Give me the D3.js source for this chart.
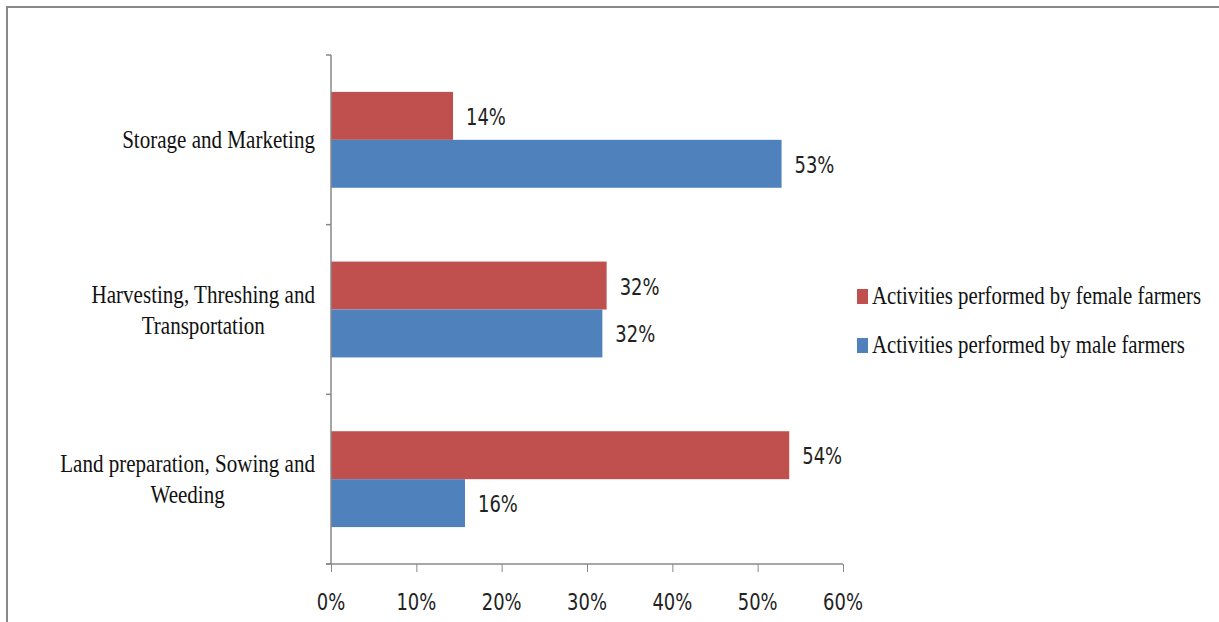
<!DOCTYPE html>
<html>
<head>
<meta charset="utf-8">
<script src="https://cdn.jsdelivr.net/npm/d3@7"></script>
<style>
body { margin: 0; background: #fff; }
</style>
</head>
<body>
<div id="chart"></div>
<script>
// categories top to bottom, each label split into lines
var categories = ["Storage and Marketing", "Harvesting, Threshing and Transportation", "Land preparation, Sowing and Weeding"];
var categoryLines = [["Storage and Marketing"], ["Harvesting, Threshing and", "Transportation"], ["Land preparation, Sowing and", "Weeding"]];
var seriesNames = ["Activities performed by female farmers", "Activities performed by male farmers"];
var seriesColors = ["#C0504D", "#4F81BD"];
var femaleValues = [14.3, 32.3, 53.7];
var maleValues = [52.8, 31.8, 15.7];
var xTicks = [0, 10, 20, 30, 40, 50, 60];

var width = 1219, height = 622;
var plot = {left: 331, right: 843, top: 55, bottom: 564};
var serif = "'Liberation Serif', 'Times New Roman', serif";
var sans = "'DejaVu Sans', sans-serif";

var svg = d3.select("#chart").append("svg")
	.attr("width", width)
	.attr("height", height);

// text squeezed sideways, the source picture is stretched tall
function narrowText(parent, x, y, str, font, size, sx, anchor) {
	var g = parent.append("g")
		.attr("transform", "translate(" + x + "," + y + ") scale(" + sx + ",1)");
	var t = g.append("text")
		.attr("text-anchor", anchor || "start")
		.attr("font-family", font)
		.attr("font-size", size + "px")
		.attr("fill", "#111")
		.text(str);
	return {g: g, t: t, w: t.node().getComputedTextLength() * sx};
}

// outer frame
svg.append("rect")
	.attr("x", 7).attr("y", 7)
	.attr("width", width + 10).attr("height", height + 10)
	.attr("fill", "none")
	.attr("stroke", "#888888")
	.attr("stroke-width", 2);

var x = d3.scaleLinear().domain([0, 60]).range([plot.left, plot.right]);
var y = d3.scaleBand().domain(categories).range([plot.top, plot.bottom]);
var inner = d3.scaleBand().domain([0, 1]).range([0, y.bandwidth()]).paddingOuter(0.77).paddingInner(0);

var rows = [];
categories.forEach(function (c, i) {
	rows.push({cat: c, s: 0, v: femaleValues[i]});
	rows.push({cat: c, s: 1, v: maleValues[i]});
});

svg.selectAll(".bar")
	.data(rows)
	.enter()
	.append("rect")
		.attr("class", "bar")
		.attr("x", x(0))
		.attr("y", d => y(d.cat) + inner(d.s))
		.attr("width", d => x(d.v) - x(0))
		.attr("height", inner.bandwidth())
		.attr("fill", d => seriesColors[d.s]);

rows.forEach(function (d) {
	narrowText(svg, x(d.v) + 13, y(d.cat) + inner(d.s) + inner.bandwidth() / 2 + 9,
		Math.round(d.v) + "%", sans, 23, 0.78).t.attr("fill", "#222");
});

// x axis
var xAxis = d3.axisBottom(x).tickValues(xTicks).tickSize(8).tickFormat("");
var xg = svg.append("g")
	.attr("transform", "translate(0," + plot.bottom + ")")
	.call(xAxis);
xg.select(".domain").attr("stroke", "#888").attr("stroke-width", 1.5)
	.attr("d", "M" + (plot.left - 5) + ",0H" + plot.right);
xg.selectAll(".tick line").attr("stroke", "#888");
xTicks.forEach(function (v) {
	narrowText(xg, x(v), 46, v + "%", sans, 23, 0.78, "middle").t.attr("fill", "#222");
});

// y axis line with category separators
var yg = svg.append("g").attr("stroke", "#888").attr("stroke-width", 1.5);
yg.append("line")
	.attr("x1", plot.left).attr("x2", plot.left)
	.attr("y1", plot.top).attr("y2", plot.bottom);
var seps = categories.map(c => y(c)).concat([plot.bottom]);
yg.selectAll(".sep")
	.data(seps)
	.enter()
	.append("line")
		.attr("x1", plot.left - 5).attr("x2", plot.left)
		.attr("y1", d => d).attr("y2", d => d);

// category labels, lines centred on each other, block right aligned
categories.forEach(function (c, i) {
	var lines = categoryLines[i];
	var cy = y(c) + y.bandwidth() / 2;
	var lineH = 31;
	var items = lines.map(function (l, j) {
		return narrowText(svg, 0, cy + (j - (lines.length - 1) / 2) * lineH + 8.5, l, serif, 26, 0.81, "middle");
	});
	var maxW = d3.max(items, d => d.w);
	items.forEach(function (it, j) {
		it.g.attr("transform", "translate(" + (315 - maxW / 2) + "," + (cy + (j - (lines.length - 1) / 2) * lineH + 8.5) + ") scale(0.81,1)");
	});
});

// legend
var legend = svg.append("g");
seriesNames.forEach(function (n, i) {
	var ly = 304 + i * 49;
	legend.append("rect")
		.attr("x", 857).attr("y", ly - 15)
		.attr("width", 11).attr("height", 15)
		.attr("fill", seriesColors[i]);
	narrowText(legend, 872, ly, n, serif, 26, 0.80);
});
</script>
</body>
</html>
